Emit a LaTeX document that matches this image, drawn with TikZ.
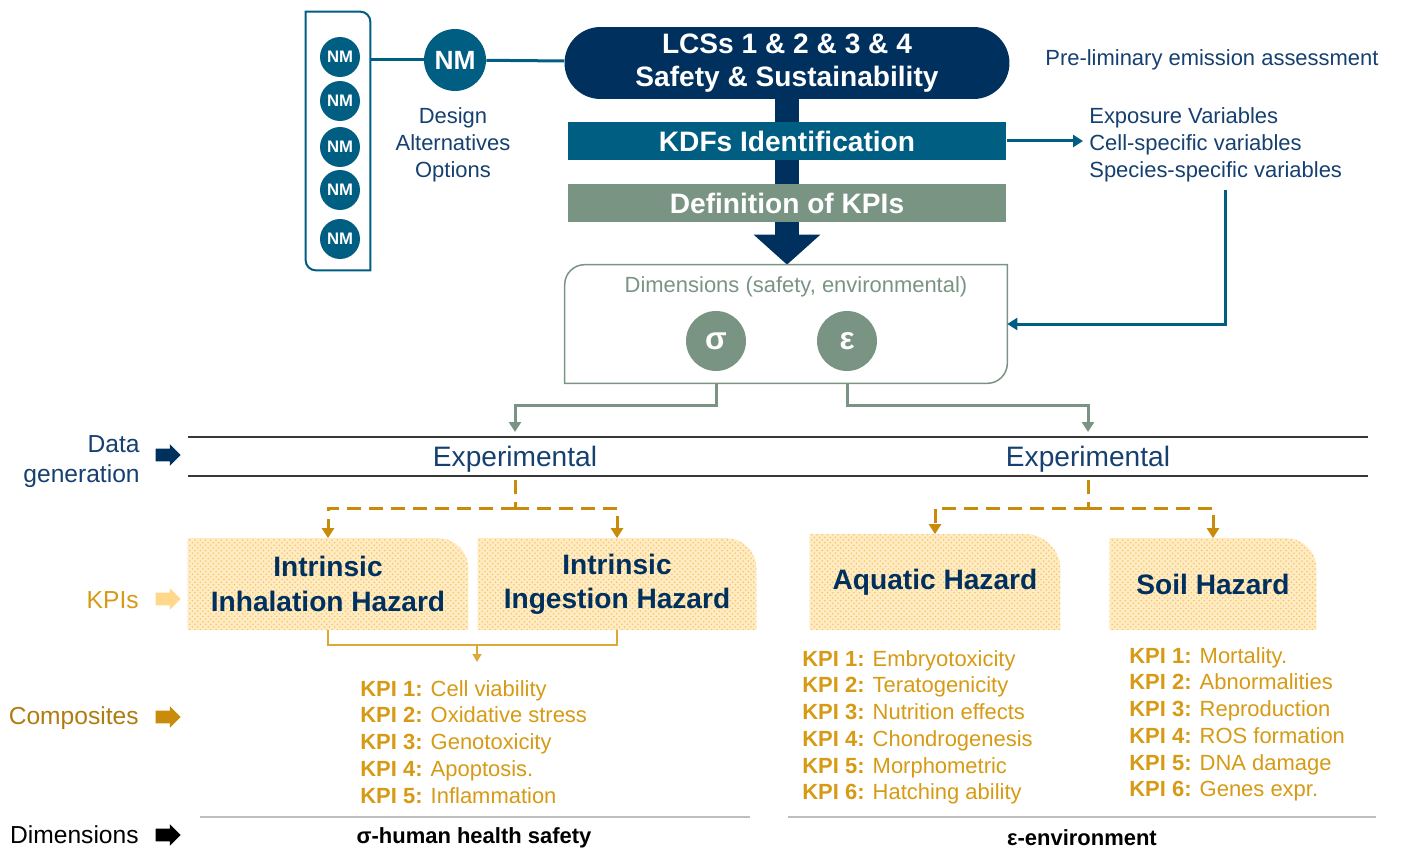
\documentclass[tikz,border=0pt]{standalone}
\usepackage{fontspec}
\setmainfont{Liberation Sans}
\usetikzlibrary{arrows.meta,shapes.arrows,patterns,backgrounds}

\definecolor{navy}{RGB}{0,48,94}
\definecolor{nmteal}{RGB}{0,94,130}
\definecolor{sage}{RGB}{122,148,132}
\definecolor{labnavy}{RGB}{22,64,112}
\definecolor{kpigold}{RGB}{214,154,20}
\definecolor{compgold}{RGB}{176,124,18}
\definecolor{dashgold}{RGB}{200,140,10}
\definecolor{paleyel}{RGB}{255,236,196}
\definecolor{dotyel}{RGB}{248,196,100}
\definecolor{palearrow}{RGB}{255,216,140}
\definecolor{rulegray}{RGB}{55,55,55}
\definecolor{lightrule}{RGB}{190,190,190}

\tikzset{every node/.style={inner sep=0pt}}
\tikzset{nm/.style={circle,fill=nmteal,text=white,minimum size=0.8cm,font=\fontsize{9.5}{10}\selectfont\bfseries}}
\tikzset{nmbig/.style={nm,minimum size=1.24cm,font=\fontsize{15}{16}\selectfont\bfseries}}
\tikzset{lcsbox/.style={rectangle,rounded corners=0.72cm,fill=navy,text=white,minimum width=8.9cm,minimum height=1.44cm,align=center,font=\fontsize{16}{18.8}\selectfont\bfseries}}
\tikzset{band/.style={rectangle,text=white,minimum width=8.78cm,minimum height=0.76cm,font=\fontsize{16}{18}\selectfont\bfseries}}
\tikzset{dimc/.style={circle,fill=sage,text=white,minimum size=1.2cm,font=\fontsize{18}{20}\selectfont\bfseries}}
\tikzset{lbl/.style={text=labnavy,font=\fontsize{12.5}{15.2}\selectfont}}
\tikzset{haz/.style={text=navy,align=center,font=\fontsize{16}{19.5}\selectfont\bfseries}}
\tikzset{hazfill/.style={preaction={fill=paleyel},pattern=crosshatch dots,pattern color=dotyel}}
\tikzset{kpis/.style={text=kpigold,align=left,anchor=north west,font=\fontsize{12.5}{15.2}\selectfont}}
\tikzset{rowlabel/.style={anchor=east,align=right,font=\fontsize{14}{17}\selectfont}}
\tikzset{pointer/.style={single arrow,text height=0.12cm,text depth=0.12cm,text width=0pt,minimum height=0.5cm,single arrow head extend=0.09cm}}
\tikzset{tealline/.style={draw=nmteal,line width=0.06cm}}
\tikzset{sageline/.style={draw=sage,line width=0.06cm}}
\tikzset{dashy/.style={draw=dashgold,line width=0.06cm,dash pattern=on 0.28cm off 0.16cm}}
\tikzset{thingold/.style={draw=kpigold!85!white,line width=0.03cm}}

\begin{document}
\begin{tikzpicture}[x=0.02cm,y=-0.02cm,>={Triangle[width=0.24cm,length=0.2cm]}]
  \useasboundingbox (0,0) rectangle (1403,851);
  \node (nmcol) [minimum width=1.28cm,minimum height=5.16cm] at (338,141) {};
  \draw[draw=nmteal,line width=0.04cm] (nmcol.north west) -- ([xshift=-0.2cm]nmcol.north east) arc[start angle=90,end angle=0,radius=0.2cm] -- (nmcol.south east) -- ([xshift=0.2cm]nmcol.south west) arc[start angle=270,end angle=180,radius=0.2cm] -- cycle;
  \node[nm] (nm1) at (340,57) {NM};
  \node[nm] (nm2) at (340,101) {NM};
  \node[nm] (nm3) at (340,147) {NM};
  \node[nm] (nm4) at (340,190) {NM};
  \node[nm] (nm5) at (340,239) {NM};
  \node[nmbig] (nm) at (455,60) {NM};
  \node[lbl,align=center] (design) at (453,145) {Design\\Alternatives\\Options};
  \node[lcsbox] (lcs) at (787,63) {LCSs 1 \& 2 \& 3 \& 4\\Safety \& Sustainability};
  \draw[tealline] (nmcol.east |- nm) -- (nm);
  \draw[tealline] (nm) -- (lcs);

  \node (dims) [minimum width=8.84cm,minimum height=2.36cm] at (786,324) {};
  \draw[navy,line width=0.48cm,-{Triangle[width=1.3cm,length=0.6cm]}] (lcs.south) -- (lcs.south |- dims.north);
  \node[band,fill=nmteal] (kdf) at (787,141) {KDFs Identification};
  \node[band,fill=sage] (kpidef) at (787,203) {Definition of KPIs};
  \draw[sage,line width=0.03cm] (dims.south west) -- ([yshift=-0.4cm]dims.north west) arc[start angle=180,end angle=90,radius=0.4cm] -- (dims.north east) -- ([yshift=0.4cm]dims.south east) arc[start angle=0,end angle=-90,radius=0.4cm] -- cycle;
  \node[lbl,text=sage] (dimtitle) at (796,287) {Dimensions (safety, environmental)};
  \node[dimc] (sig) at (716,341) {σ};
  \node[dimc] (eps) at (847,341) {ε};

  \node[lbl,anchor=west] (prelim) at (1045,60) {Pre-liminary emission assessment};
  \node[lbl,anchor=west,align=left] (expo) at (1089,145) {Exposure Variables\\Cell-specific variables\\Species-specific variables};
  \draw[tealline,->,shorten >=0.12cm] (kdf) -- (kdf -| expo.west);
  \draw[tealline,->,shorten <=0.15cm] ([xshift=0.2cm]expo.south) |- (dims.east);

  \coordinate (topl) at (188,437);
  \coordinate (topr) at (1368,437);
  \coordinate (botl) at (188,476);
  \coordinate (botr) at (1368,476);
  \draw[rulegray,line width=0.04cm] (topl) -- (topr);
  \draw[rulegray,line width=0.04cm] (botl) -- (botr);
  \node[lbl,font=\fontsize{16}{18}\selectfont] (exp1) at (515,459) {Experimental};
  \node[lbl,font=\fontsize{16}{18}\selectfont] (exp2) at (1088,459) {Experimental};
  \draw[sageline,->,shorten >=0.1cm] (sig |- dims.south) -- ++(0,22) -| (exp1 |- topl);
  \draw[sageline,->,shorten >=0.1cm] (eps |- dims.south) -- ++(0,22) -| (exp2 |- topl);

  \node[haz,minimum width=5.6cm,minimum height=1.82cm] (haz1) at (328,584) {Intrinsic\\Inhalation Hazard};
  \node[haz,minimum width=5.56cm,minimum height=1.82cm] (haz2) at (617,584) {Intrinsic\\Ingestion Hazard};
  \node[haz,minimum width=5cm,minimum height=1.9cm] (aqua) at (935,582) {Aquatic Hazard};
  \node[haz,minimum width=4.12cm,minimum height=1.82cm] (soil) at (1213,584) {Soil Hazard};
  \begin{scope}[on background layer]
    \fill[hazfill] (haz1.south west) -- (haz1.north west) -- ([xshift=-0.6cm]haz1.north east) arc[start angle=90,end angle=0,radius=0.6cm] -- (haz1.south east) -- cycle;
    \fill[hazfill] (haz2.south west) -- (haz2.north west) -- ([xshift=-0.6cm]haz2.north east) arc[start angle=90,end angle=0,radius=0.6cm] -- (haz2.south east) -- cycle;
    \fill[hazfill] (aqua.south west) -- (aqua.north west) -- ([xshift=-0.7cm]aqua.north east) arc[start angle=90,end angle=0,radius=0.7cm] -- (aqua.south east) -- cycle;
    \fill[hazfill] (soil.south west) -- (soil.north west) -- ([xshift=-0.6cm]soil.north east) arc[start angle=90,end angle=0,radius=0.6cm] -- (soil.south east) -- cycle;
  \end{scope}

  \coordinate (fork1) at (515,508);
  \coordinate (fork2) at (1088,508);
  \draw[dashy,shorten <=0.08cm] (exp1 |- botl) -- (fork1);
  \draw[dashy,->] (fork1) -| (haz1.north);
  \draw[dashy,->] (fork1) -| (haz2.north);
  \draw[dashy,shorten <=0.08cm] (exp2 |- botl) -- (fork2);
  \draw[dashy,->] (fork2) -| (aqua.north);
  \draw[dashy,->] (fork2) -| (soil.north);

  \node[kpis] (hlist) at (360,680) {\textbf{KPI 1:} Cell viability\\\textbf{KPI 2:} Oxidative stress\\\textbf{KPI 3:} Genotoxicity\\\textbf{KPI 4:} Apoptosis.\\\textbf{KPI 5:} Inflammation};
  \node[kpis] (alist) at (802,650) {\textbf{KPI 1:} Embryotoxicity\\\textbf{KPI 2:} Teratogenicity\\\textbf{KPI 3:} Nutrition effects\\\textbf{KPI 4:} Chondrogenesis\\\textbf{KPI 5:} Morphometric\\\textbf{KPI 6:} Hatching ability};
  \node[kpis] (slist) at (1129,647) {\textbf{KPI 1:} Mortality.\\\textbf{KPI 2:} Abnormalities\\\textbf{KPI 3:} Reproduction\\\textbf{KPI 4:} ROS formation\\\textbf{KPI 5:} DNA damage\\\textbf{KPI 6:} Genes expr.};
  \coordinate (join) at (477,645);
  \draw[thingold] (haz1.south) |- (join) -| (haz2.south);
  \draw[thingold,-{Triangle[width=0.18cm,length=0.16cm]},shorten >=0.36cm] (join) -- (join |- hlist.north);

  \node[rowlabel,text=labnavy] (dglab) at (140,462) {Data\\generation};
  \node[pointer,fill=navy] (dgarr) at (165,455) {};
  \node[rowlabel,text=kpigold] (kpilab) at (139,600) {KPIs};
  \node[pointer,fill=palearrow] (kpiarr) at (165,599) {};
  \node[rowlabel,text=compgold] (complab) at (139,718) {Composites};
  \node[pointer,fill=dashgold] (comparr) at (165,717) {};
  \node[rowlabel,text=black] (dimlab) at (139,835) {Dimensions};
  \node[pointer,fill=black] (dimarr) at (165,835) {};

  \draw[lightrule,line width=0.04cm] (200,817) -- (750,817);
  \draw[lightrule,line width=0.04cm] (788,817) -- (1376,817);
  \node[font=\fontsize{12.5}{14}\selectfont\bfseries] (sigdim) at (474,838) {σ-human health safety};
  \node[font=\fontsize{12.5}{14}\selectfont\bfseries] (epsdim) at (1082,838) {ε-environment};
\end{tikzpicture}
\end{document}
